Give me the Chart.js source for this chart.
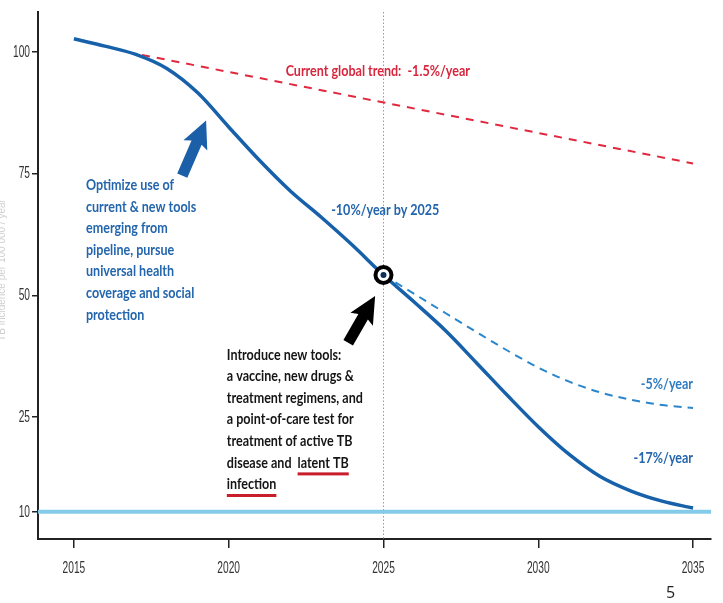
<!DOCTYPE html>
<html><head><meta charset="utf-8">
<script src="https://cdn.jsdelivr.net/npm/chart.js@4"></script>
<style>
html,body{margin:0;padding:0;background:#fff;overflow:hidden}
#wrap{position:relative;width:723px;height:603px}
#pg{position:absolute;left:666px;top:581px;font:16px "Open Sans",sans-serif;color:#222}
</style></head><body>
<div id="wrap"><canvas id="c" width="723" height="603"></canvas><div id="pg">5</div></div>
<script>
// ---- data ----
const xMin = 2013.84, xMax = 2035.58;
const xTicks = [2015, 2020, 2025, 2030, 2035];
const yTicks = [10, 25, 50, 75, 100];
const mainYears  = [2015, 2016, 2017, 2018, 2019, 2020, 2021, 2022, 2023, 2024, 2025, 2026, 2027, 2028, 2029, 2030, 2031, 2032, 2033, 2034, 2035];
const mainValues = [102.7, 101.2, 99.5, 96.6, 91.6, 84.6, 77.7, 71.4, 66.0, 60.3, 54.2, 48.6, 42.8, 36.2, 29.5, 23.5, 19.1, 15.6, 13.3, 11.7, 10.6];
const slowYears  = [2025, 2026, 2027, 2028, 2029, 2030, 2031, 2032, 2033, 2034, 2035];
const slowValues = [54.2, 50.3, 46.4, 42.5, 38.7, 35.2, 32.3, 30.1, 28.6, 27.5, 26.9];
const trendYears  = [2017.2, 2035];
const trendValues = [99.4, 77.1];
const targetYears  = [xMin, xMax];
const targetValues = [10, 10];
const milestoneYears  = [2025];
const milestoneValues = [54.2];

const zip = (xs, ys) => xs.map((x, i) => ({x, y: ys[i]}));

// ---- y axis with compressed segment below 25 (as in the original) ----
const BREAK = 25, K = 1.295;
const fwd = v => v >= BREAK ? v : BREAK - (BREAK - v) * K;
const inv = d => d >= BREAK ? d : BREAK - (BREAK - d) / K;
class BrokenScale extends Chart.LinearScale {
  getPixelForValue(v) { return super.getPixelForValue(fwd(v)); }
  getValueForPixel(p) { return inv(super.getValueForPixel(p)); }
}
BrokenScale.id = 'broken';
BrokenScale.defaults = Chart.LinearScale.defaults;
Chart.register(BrokenScale);

const NOTE_FONT = '700 14.5px Lato, "Liberation Sans", sans-serif';
const TICK_FONT = '17px "Liberation Sans", Arial, sans-serif';
const TICK_SX = 0.6;

// ---- annotations ----
const notes = [
  {lines: ["Current global trend:  -1.5%/year"], x: 2021.84, y: 96.1, color: '#d7263d', align: 'left'},
  {lines: ["Optimize use of", "current & new tools", "emerging from", "pipeline, pursue", "universal health", "coverage and social", "protection"], x: 2015.39, y: 72.6, color: '#2466ad', align: 'left'},
  {lines: ["-10%/year by 2025"], x: 2023.31, y: 67.5, color: '#2466ad', align: 'left'},
  {lines: ["Introduce new tools:", "a vaccine, new drugs &", "treatment regimens, and", "a point-of-care test for", "treatment of active TB", "disease and  latent TB", "infection"], x: 2019.94, y: 37.8, color: '#151515', align: 'left',
   underline: [{line: 5, before: "disease and  ", text: "latent TB"}, {line: 6, before: "", text: "infection"}]},
  {lines: ["-5%/year"], x: 2035, y: 31.7, color: '#2f7cc0', align: 'right'},
  {lines: ["-17%/year"], x: 2035, y: 18.5, color: '#2466ad', align: 'right'},
];
const arrows = [
  {from: [2018.5, 74.6], to: [2019.27, 85.9], color: '#1a5fa8'},
  {from: [2023.86, 40.3], to: [2024.73, 49.9], color: '#000'},
];

function drawArrow(ctx, x1, y1, x2, y2, color) {
  const a = Math.atan2(y2 - y1, x2 - x1), len = Math.hypot(x2 - x1, y2 - y1);
  const sw = 11, hw = 26, hl = 24;
  ctx.save(); ctx.translate(x1, y1); ctx.rotate(a);
  ctx.beginPath();
  ctx.moveTo(0, -sw / 2); ctx.lineTo(len - hl, -sw / 2); ctx.lineTo(len - hl - 3, -hw / 2);
  ctx.lineTo(len, 0); ctx.lineTo(len - hl - 3, hw / 2); ctx.lineTo(len - hl, sw / 2); ctx.lineTo(0, sw / 2);
  ctx.closePath(); ctx.fillStyle = color; ctx.fill(); ctx.restore();
}

const deco = {
  id: 'deco',
  beforeDatasetsDraw(chart) {
    const {ctx, chartArea, scales: {x}} = chart;
    const px = Math.round(x.getPixelForValue(2025)) + 0.5;
    ctx.save(); ctx.strokeStyle = '#9a9a9a'; ctx.lineWidth = 1; ctx.setLineDash([1.5, 2]);
    ctx.beginPath(); ctx.moveTo(px, chartArea.top); ctx.lineTo(px, chartArea.bottom); ctx.stroke(); ctx.restore();
  },
  afterDatasetsDraw(chart) {
    const {ctx, chartArea, scales: {x, y}} = chart;
    ctx.save();
    arrows.forEach(a => drawArrow(ctx, x.getPixelForValue(a.from[0]), y.getPixelForValue(a.from[1]),
      x.getPixelForValue(a.to[0]), y.getPixelForValue(a.to[1]), a.color));

    // annotations, condensed horizontally like the original typeface
    ctx.font = NOTE_FONT; ctx.textBaseline = 'middle';
    const SX = 136 / ctx.measureText('treatment regimens, and').width;
    const LH = 21.6;
    notes.forEach(n => {
      const px = x.getPixelForValue(n.x), py = y.getPixelForValue(n.y);
      ctx.save(); ctx.translate(px, py); ctx.scale(SX, 1);
      ctx.fillStyle = n.color; ctx.textAlign = n.align;
      n.lines.forEach((t, i) => ctx.fillText(t, 0, i * LH));
      (n.underline || []).forEach(u => {
        const x0 = ctx.measureText(u.before).width, w = ctx.measureText(u.text).width;
        const yy = u.line * LH + 11;
        ctx.fillStyle = '#c81e2c'; ctx.fillRect(x0, yy - 1.5, w, 3);
      });
      ctx.restore();
    });

    // tick labels (condensed)
    ctx.font = TICK_FONT; ctx.fillStyle = '#333';
    ctx.textAlign = 'center'; ctx.textBaseline = 'middle';
    x.ticks.forEach(t => {
      ctx.save(); ctx.translate(x.getPixelForValue(t.value), chartArea.bottom + 29); ctx.scale(TICK_SX, 1);
      ctx.fillText(String(t.value), 0, 0); ctx.restore();
    });
    ctx.textAlign = 'right';
    y.ticks.forEach(t => {
      ctx.save(); ctx.translate(chartArea.left - 8, y.getPixelForValue(t.value)); ctx.scale(TICK_SX, 1);
      ctx.fillText(String(t.value), 0, 0); ctx.restore();
    });

    // faint y-axis title (cut at the left edge in the original)
    ctx.translate(2, 270); ctx.rotate(-Math.PI / 2);
    ctx.font = '10px "Liberation Sans", sans-serif'; ctx.fillStyle = '#cfcfcf'; ctx.textAlign = 'center';
    ctx.fillText('TB incidence per 100 000 / year', 0, 0);
    ctx.restore();
  }
};

new Chart(document.getElementById('c'), {
  type: 'line',
  data: {
    datasets: [
      {data: zip(milestoneYears, milestoneValues), showLine: false, pointRadius: 3, pointBackgroundColor: '#0b2f5a', pointBorderWidth: 0, order: 0},
      {data: zip(milestoneYears, milestoneValues), showLine: false, pointRadius: 8, pointBackgroundColor: '#fff', pointBorderColor: '#000', pointBorderWidth: 4, order: 1},
      {data: zip(mainYears, mainValues), borderColor: '#1760aa', borderWidth: 3.5, pointRadius: 0, cubicInterpolationMode: 'monotone', order: 2},
      {data: zip(slowYears, slowValues), borderColor: '#2a86cc', borderWidth: 2, borderDash: [8, 6], pointRadius: 0, cubicInterpolationMode: 'monotone', order: 3},
      {data: zip(trendYears, trendValues), borderColor: '#e0283f', borderWidth: 2, borderDash: [8, 7], pointRadius: 0, order: 4},
      {data: zip(targetYears, targetValues), borderColor: '#84cbe9', borderWidth: 4, pointRadius: 0, order: 5},
    ]
  },
  options: {
    responsive: false, animation: false,
    layout: {padding: {top: 6, right: 8, left: 0, bottom: 0}},
    plugins: {legend: {display: false}, tooltip: {enabled: false}},
    scales: {
      x: {
        type: 'linear', min: xMin, max: xMax,
        afterBuildTicks: s => { s.ticks = xTicks.map(v => ({value: v})); },
        afterFit: s => { s.height = 64; },
        grid: {drawOnChartArea: false, drawTicks: true, tickLength: 9, color: '#222', lineWidth: 1.5},
        border: {display: true, color: '#222', width: 2},
        ticks: {display: false, autoSkip: false}
      },
      y: {
        type: 'broken', min: 0, max: 108.2,
        afterBuildTicks: s => { s.ticks = yTicks.map(v => ({value: v})); },
        afterFit: s => { s.width = 38; },
        grid: {drawOnChartArea: false, drawTicks: true, tickLength: 6, color: '#222', lineWidth: 1.5},
        border: {display: true, color: '#222', width: 2},
        ticks: {display: false, autoSkip: false}
      }
    }
  },
  plugins: [deco]
});
</script>
</body></html>
